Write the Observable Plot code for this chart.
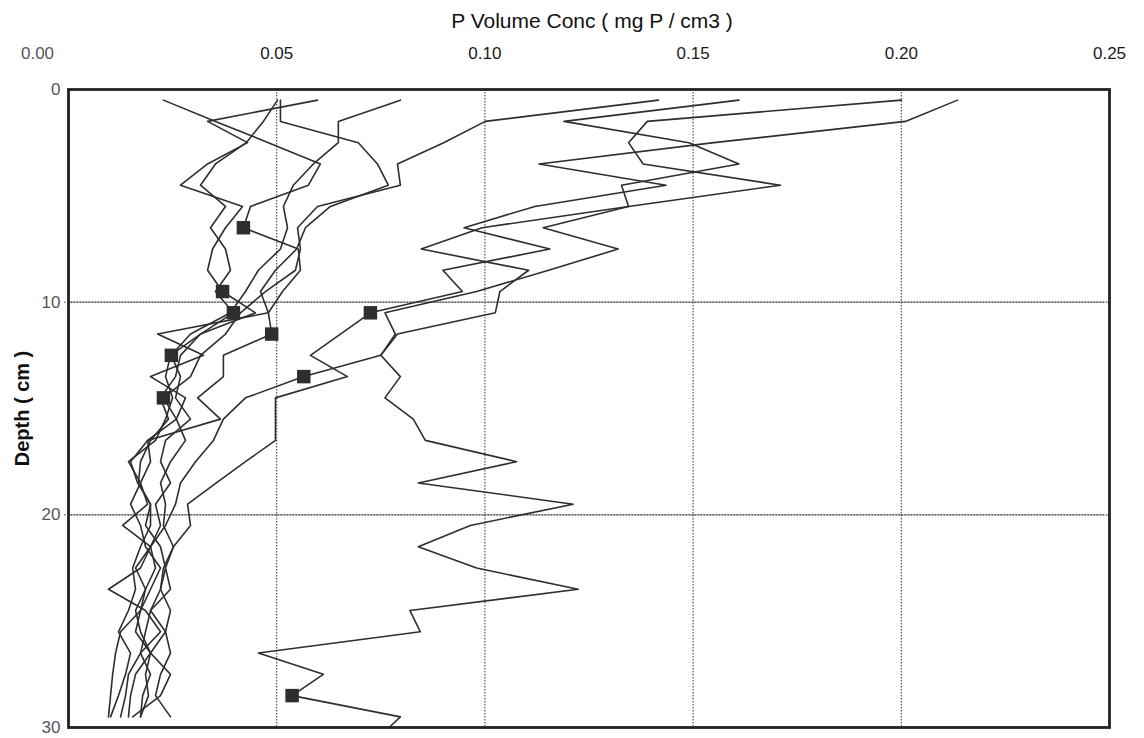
<!DOCTYPE html>
<html><head><meta charset="utf-8">
<script src="https://cdn.jsdelivr.net/npm/d3@7"></script>
<script src="https://cdn.jsdelivr.net/npm/@observablehq/plot@0.6"></script>
<style>html,body{margin:0;padding:0;background:#fff;overflow:hidden}</style>
</head><body><div id="chart"></div>
<script>
// Depth (cm) of each sample (mid-slice), plus an end point at 30 used by one core
const depths = [0.5,1.5,2.5,3.5,4.5,5.5,6.5,7.5,8.5,9.5,10.5,11.5,12.5,13.5,14.5,15.5,16.5,17.5,18.5,19.5,20.5,21.5,22.5,23.5,24.5,25.5,26.5,27.5,28.5,29.5,30];

const profileNames = ["c1","c2","c3","c4","c5","c6","c7","c8","c9"];

// P volume concentration (mg P / cm3) per depth, one array per core
const c1 = [0.0228,0.0353,0.0480,0.0605,0.0576,0.0437,0.0420,0.0552,0.0557,0.0514,0.0480,0.0214,0.0324,0.0197,0.0281,0.0259,0.0190,0.0197,0.0173,0.0190,0.0130,0.0197,0.0173,0.0096,0.0185,0.0221,0.0173,0.0144,0.0137,0.0125];
const c2 = [0.0598,0.0334,0.0430,0.0334,0.0269,0.0418,0.0377,0.0346,0.0334,0.0370,0.0449,0.0317,0.0269,0.0257,0.0221,0.0240,0.0197,0.0173,0.0168,0.0197,0.0197,0.0173,0.0154,0.0161,0.0144,0.0120,0.0149,0.0137,0.0120,0.0101];
const c3 = [0.0502,0.0468,0.0427,0.0353,0.0317,0.0377,0.0341,0.0377,0.0389,0.0353,0.0396,0.0317,0.0245,0.0233,0.0250,0.0233,0.0209,0.0144,0.0173,0.0149,0.0173,0.0185,0.0221,0.0197,0.0173,0.0125,0.0113,0.0106,0.0101,0.0096];
const c4 = [0.0509,0.0509,0.0696,0.0742,0.0768,0.0629,0.0569,0.0548,0.0497,0.0461,0.0480,0.0488,0.0372,0.0372,0.0310,0.0365,0.0190,0.0149,0.0166,0.0197,0.0185,0.0221,0.0233,0.0245,0.0197,0.0185,0.0173,0.0197,0.0178,0.0173];
const c5 = [0.0797,0.0648,0.0648,0.0588,0.0540,0.0516,0.0526,0.0509,0.0456,0.0425,0.0389,0.0293,0.0247,0.0269,0.0257,0.0293,0.0233,0.0221,0.0245,0.0209,0.0221,0.0197,0.0209,0.0185,0.0161,0.0173,0.0197,0.0161,0.0149,0.0144];
const c6 = [0.1417,0.1001,0.0901,0.0790,0.0797,0.0598,0.0550,0.0557,0.0545,0.0473,0.0413,0.0377,0.0317,0.0293,0.0228,0.0259,0.0281,0.0245,0.0221,0.0233,0.0228,0.0252,0.0228,0.0221,0.0245,0.0233,0.0245,0.0221,0.0209,0.0245];
const c7 = [0.2135,0.2010,0.1550,0.1130,0.1435,0.1120,0.0950,0.1156,0.0899,0.0946,0.0725,0.0653,0.0581,0.0670,0.0497,0.0497,0.0497,0.0425,0.0355,0.0286,0.0293,0.0252,0.0233,0.0221,0.0197,0.0233,0.0197,0.0245,0.0221,0.0154];
const c8 = [0.2000,0.1390,0.1345,0.1380,0.1710,0.1345,0.0993,0.0847,0.1105,0.1036,0.1025,0.0790,0.0750,0.0565,0.0425,0.0372,0.0348,0.0305,0.0269,0.0257,0.0233,0.0197,0.0161,0.0185,0.0173,0.0161,0.0197,0.0185,0.0192,0.0173];
const c9 = [0.1610,0.1190,0.1490,0.1610,0.1328,0.1345,0.1140,0.1320,0.1153,0.0980,0.0760,0.0785,0.0750,0.0797,0.0760,0.0828,0.0857,0.1076,0.0840,0.1212,0.0965,0.0840,0.0980,0.1224,0.0820,0.0845,0.0456,0.0612,0.0537,0.0797,0.0770];

// depth of the highlighted (square) sample in each core
const markerDepths = [6.5,9.5,10.5,11.5,12.5,14.5,10.5,13.5,28.5];

const xTicks = [0.00,0.05,0.10,0.15,0.20,0.25];
const xGrid = [0.05,0.10,0.15,0.20];
const yTicks = [0,10,20,30];
const yGrid = [10,20];
const titleText = "P Volume Conc ( mg P / cm3 )";
const yLabelText = "Depth ( cm )";

const profiles = [c1,c2,c3,c4,c5,c6,c7,c8,c9];
const rows = [];
profiles.forEach((vals,i) => vals.forEach((v,j) => rows.push({profile: profileNames[i], depth: depths[j], value: v})));
const markers = profiles.map((vals,i) => ({profile: profileNames[i], depth: markerDepths[i], value: vals[depths.indexOf(markerDepths[i])]}));

const font = "'Liberation Sans', Arial, Helvetica, sans-serif";
const chart = Plot.plot({
  width: 1144, height: 738,
  marginTop: 89, marginBottom: 11, marginLeft: 68, marginRight: 35,
  x: {domain: [0, 0.25], axis: null},
  y: {domain: [0, 30], reverse: true, axis: null},
  style: {fontFamily: font, background: "#fff", overflow: "visible"},
  marks: [
    Plot.ruleX(xGrid, {stroke: "#444", strokeDasharray: "1.5,1.5", strokeWidth: 1.1}),
    Plot.ruleY(yGrid, {stroke: "#444", strokeDasharray: "1.5,1.5", strokeWidth: 1.1}),
    Plot.tickY(yGrid, {y: d => d, frameAnchor: "left", dx: -4, stroke: "#444", strokeDasharray: "1.5,1.5"}),
    Plot.line(rows, {x: "value", y: "depth", z: "profile", stroke: "#2e2e2e", strokeWidth: 1.6}),
    Plot.dot(markers, {x: "value", y: "depth", symbol: "square", r: 7.6, fill: "#2e2e2e", stroke: "none"}),
    Plot.frame({stroke: "#222", strokeWidth: 2.8}),
    Plot.text(xTicks.filter(d => d > 0), {x: d => d, frameAnchor: "top", dy: -36, text: d => d.toFixed(2), fontSize: 17, fill: "#1a1a1a", lineAnchor: "middle"}),
    Plot.text(xTicks.filter(d => d === 0), {x: d => d, frameAnchor: "top", dy: -36, dx: -31, text: d => d.toFixed(2), fontSize: 17, fill: "#555", lineAnchor: "middle"}),
    Plot.text(yTicks, {y: d => d, frameAnchor: "left", dx: -8, textAnchor: "end", text: d => String(d), fontSize: 17, fill: "#555", lineAnchor: "middle"}),
    Plot.text([titleText], {frameAnchor: "top", dy: -68, dx: 3, fontSize: 21, fill: "#111", textAnchor: "middle", lineAnchor: "middle"}),
    Plot.text([yLabelText], {frameAnchor: "left", dx: -46, rotate: -90, fontSize: 20, fill: "#111", fontWeight: "bold", textAnchor: "middle", lineAnchor: "middle"})
  ]
});
document.getElementById("chart").appendChild(chart);
</script>
</body></html>
